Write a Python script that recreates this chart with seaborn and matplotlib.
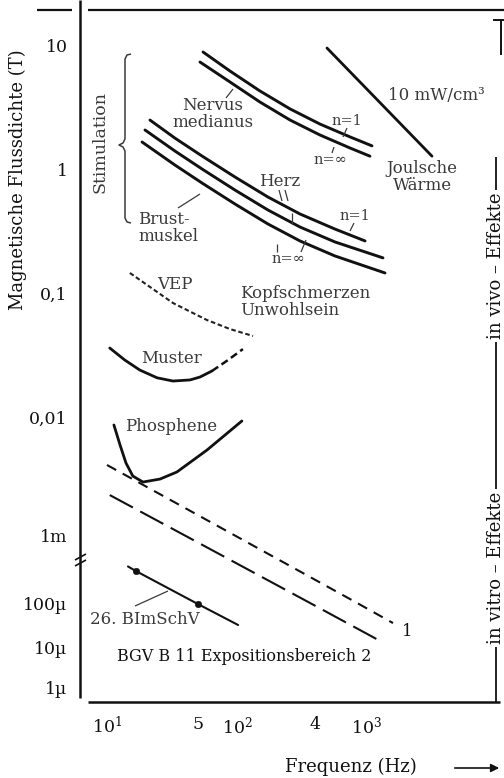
import numpy as np
import pandas as pd
import matplotlib
matplotlib.use("Agg")
import matplotlib.pyplot as plt
import matplotlib.transforms as mtransforms
from matplotlib.lines import Line2D
from matplotlib.patches import FancyArrowPatch
from matplotlib.ticker import FixedLocator, FixedFormatter, NullLocator
import seaborn as sns

# ---------------- data (frequency in Hz, flux density in T) ----------------
nerv_n1_f = [54.8, 88.3, 150, 256, 435, 740, 1092]
nerv_n1_b = [8.79, 6.19, 4.29, 3.08, 2.33, 1.84, 1.56]
nerv_ninf_f = [51.9, 88.3, 150, 256, 435, 740, 1054]
nerv_ninf_b = [7.31, 5.06, 3.50, 2.51, 1.905, 1.50, 1.29]

herz_a_f = [21.4, 33.3, 53.8, 96.5, 173, 305, 567, 966]
herz_a_b = [2.51, 1.80, 1.294, 0.877, 0.603, 0.439, 0.331, 0.265]
herz_b_f = [19.6, 33.3, 53.8, 96.5, 173, 305, 567, 1327]
herz_b_b = [2.09, 1.419, 1.019, 0.687, 0.473, 0.344, 0.260, 0.193]
herz_c_f = [18.6, 33.3, 53.8, 96.5, 173, 305, 567, 1375]
herz_c_b = [1.675, 1.096, 0.784, 0.529, 0.364, 0.265, 0.200, 0.1455]

joule_f = [492, 3162]
joule_b = [9.46, 1.29]

vep_f = [15.0, 21.4, 32.2, 58.8, 88.3, 132.8]
vep_b = [0.1455, 0.112, 0.083, 0.0605, 0.0512, 0.045]

muster_f = [10.5, 13.7, 17.9, 24.3, 32.2, 43.5, 51.9, 64.2]
muster_b = [0.0360, 0.0288, 0.0239, 0.0207, 0.0195, 0.0199, 0.0210, 0.0235]
muster_ext_f = [64.2, 85.3, 111]
muster_ext_b = [0.0235, 0.0288, 0.0353]

phos_f = [11.3, 12.6, 14.0, 15.8, 18.9, 25.6, 34.5, 58.8, 109]
phos_b = [0.00856, 0.00579, 0.00407, 0.00316, 0.00281, 0.00298, 0.00342, 0.00525, 0.00925]

bgv1_f = [10, 94.8, 867, 1585]
bgv1_b = [0.00392, 1e-3, 1e-4, 3.6e-5]
bgv2_f = [10.5, 39.1, 377, 1303]
bgv2_b = [0.00218, 1e-3, 1e-4, 1.31e-5]

bimsch_f = [14.5, 16.7, 50, 102]
bimsch_b = [3.5e-4, 3.0e-4, 1.0e-4, 3.25e-5]
bimsch_pts_f = [16.7, 50]
bimsch_pts_b = [3.0e-4, 1.0e-4]

xticks = [10, 50, 100, 400, 1000]
xticklabels = ["$10^1$", "5", "$10^2$", "4", "$10^3$"]
yticks = [10, 1, 0.1, 0.01, 1e-3, 1e-4, 1e-5, 1e-6]
yticklabels = ["10", "1", "0,1", "0,01", "1m", "100µ", "10µ", "1µ"]

# ---------------- style ----------------
sns.set_style("white")
plt.rcParams["font.family"] = ["DejaVu Serif"]
plt.rcParams["mathtext.fontset"] = "dejavuserif"

W, H = 504, 778
fig = plt.figure(figsize=(W / 100, H / 100), dpi=100)
ax = fig.add_axes([80 / W, 1 - 702 / H, 420 / W, 692 / H])

# broken (non-uniform) logarithmic flux-density axis
U_KN = np.array([-8, -6, -5, -4, -3, -2, -1, 0, 1, 2.5])
PX_KN = np.array([767, 687, 647, 604, 535, 417, 293, 170, 45, -141], float)


def fwd(y):
    y = np.asarray(y, float)
    u = np.log10(np.clip(y, 1e-14, None))
    return -np.interp(u, U_KN, PX_KN)


def inv(p):
    p = np.asarray(p, float)
    return 10 ** np.interp(-p, PX_KN[::-1], U_KN[::-1])


ax.set_xscale("log")
ax.set_yscale("function", functions=(fwd, inv))
ax.set_xlim(10 ** 0.7923, 10 ** 4.0231)
ax.set_ylim(float(inv(-702)), float(inv(-10)))

INK = "#111111"


def line(f, b, lw=2.0, ls="-", color=INK):
    df = pd.DataFrame({"f": f, "b": b})
    sns.lineplot(data=df, x="f", y="b", ax=ax, estimator=None, sort=False,
                 errorbar=None, color=color, linewidth=lw, linestyle=ls)


line(nerv_n1_f, nerv_n1_b, lw=2.1)
line(nerv_ninf_f, nerv_ninf_b, lw=2.1)
line(herz_a_f, herz_a_b, lw=2.1)
line(herz_b_f, herz_b_b, lw=2.1)
line(herz_c_f, herz_c_b, lw=2.1)
line(joule_f, joule_b, lw=2.0)
line(vep_f, vep_b, lw=1.5, ls=(0, (2.2, 1.3)), color="#222222")
line(muster_f, muster_b, lw=2.0)
line(muster_ext_f, muster_ext_b, lw=1.8, ls=(0, (3.0, 1.6)))
line(phos_f, phos_b, lw=2.0)
line(bgv1_f, bgv1_b, lw=1.5, ls=(0, (5.0, 3.6)))
line(bgv2_f, bgv2_b, lw=1.5, ls=(0, (12.6, 4.0)))
line(bimsch_f, bimsch_b, lw=1.5)
sns.scatterplot(x=bimsch_pts_f, y=bimsch_pts_b, ax=ax, color=INK, s=22,
                edgecolor=INK, zorder=5)

ax.set_xlabel("")
ax.set_ylabel("")
ax.grid(False)
for s in ax.spines.values():
    s.set_visible(False)

ax.xaxis.set_major_locator(FixedLocator(xticks))
ax.xaxis.set_major_formatter(FixedFormatter(xticklabels))
ax.xaxis.set_minor_locator(NullLocator())
ax.yaxis.set_major_locator(FixedLocator(yticks))
ax.yaxis.set_major_formatter(FixedFormatter(yticklabels))
ax.yaxis.set_minor_locator(NullLocator())
ax.tick_params(axis="y", direction="out", length=7, width=1.5, pad=2,
               labelsize=12.5, colors=INK)
ax.tick_params(axis="x", direction="inout", length=8, width=1.2, pad=6,
               labelsize=12.5, colors=INK)

# ---------------- decorations in pixel coordinates ----------------
P = mtransforms.Affine2D().scale(1 / W, -1 / H).translate(0, 1) + fig.transFigure
GREY = "#3a3a3a"


def seg(pts, lw=1.2, color=INK):
    xs, ys = zip(*pts)
    fig.add_artist(Line2D(xs, ys, transform=P, color=color, lw=lw,
                          solid_capstyle="butt"))


def txt(x, y, s, size=12, color=GREY, **kw):
    kw.setdefault("ha", "center")
    kw.setdefault("va", "center")
    fig.text(x, y, s, transform=P, fontsize=size, color=color, **kw)


# frame lines
seg([(37, 10), (72, 10)], lw=1.6)
seg([(88, 10), (504, 10)], lw=1.6)
seg([(80, 0), (80, 698)], lw=1.8)
seg([(88, 702), (500, 702)], lw=1.8)
seg([(493, 20), (504, 20)], lw=1.4)
seg([(501, 20), (501, 55)], lw=1.4)
seg([(496, 157), (496, 702)], lw=1.3)
# axis break
seg([(75, 560), (86, 554)], lw=1.2)
seg([(75, 566), (86, 560)], lw=1.2)

# brace for "Stimulation"
seg([(131, 54), (127, 55), (125, 59), (125, 139), (123, 143), (119, 145),
     (123, 147), (125, 151), (125, 218), (127, 222), (131, 223)], lw=1.1,
    color=GREY)

# leader lines
seg([(226, 98), (233, 89)], lw=0.9, color=GREY)
seg([(347, 128), (343, 137)], lw=0.9, color=GREY)
seg([(332, 153), (334, 147)], lw=0.9, color=GREY)
seg([(279, 190), (282, 201)], lw=0.9, color=GREY)
seg([(285, 190), (288, 201)], lw=0.9, color=GREY)
seg([(292, 213), (292, 224)], lw=0.9, color=GREY)
seg([(354, 223), (350, 231)], lw=0.9, color=GREY)
seg([(277, 252), (277, 244)], lw=0.9, color=GREY)
seg([(301, 252), (306, 240)], lw=0.9, color=GREY)
seg([(178, 208), (200, 194)], lw=0.9, color=GREY)
seg([(135, 606), (168, 591)], lw=0.9, color=GREY)

# axis titles
txt(18, 180, "Magnetische Flussdichte (T)", size=13, color=INK, rotation=90)
txt(351, 767, "Frequenz (Hz)", size=13, color=INK)
fig.add_artist(FancyArrowPatch((452, 768), (502, 768), transform=P,
                               arrowstyle="-|>", mutation_scale=12,
                               lw=1.2, color=INK))

# side labels
bb = dict(facecolor="white", edgecolor="none", pad=2)
txt(496, 266, "in vivo – Effekte", size=13, color=INK, rotation=90, bbox=bb)
txt(496, 568, "in vitro – Effekte", size=13, color=INK, rotation=90, bbox=bb)

# curve labels
txt(100, 142, "Stimulation", size=12.5, rotation=90)
txt(213, 114, "Nervus\nmedianus", size=12, linespacing=1.0)
txt(347, 121, "n=1", size=10.5)
txt(330, 160, "n=∞", size=10.5)
txt(388, 95, "10 mW/cm³", size=12, ha="left")
txt(422, 177, "Joulsche\nWärme", size=12, linespacing=0.95)
txt(280, 181, "Herz", size=12)
txt(355, 216, "n=1", size=10.5)
txt(288, 259, "n=∞", size=10.5)
txt(138, 228, "Brust-\nmuskel", size=12, ha="left", linespacing=0.95)
txt(240, 302, "Kopfschmerzen\nUnwohlsein", size=12, ha="left", linespacing=1.0)
txt(175, 285, "VEP", size=12)
txt(172, 359, "Muster", size=12)
txt(171, 427, "Phosphene", size=12)
txt(145, 620, "26. BImSchV", size=12)
txt(244, 657, "BGV B 11 Expositionsbereich 2", size=11.5, color=INK)
txt(407, 632, "1", size=12, color=INK)

fig.savefig("out.png", dpi=100)
